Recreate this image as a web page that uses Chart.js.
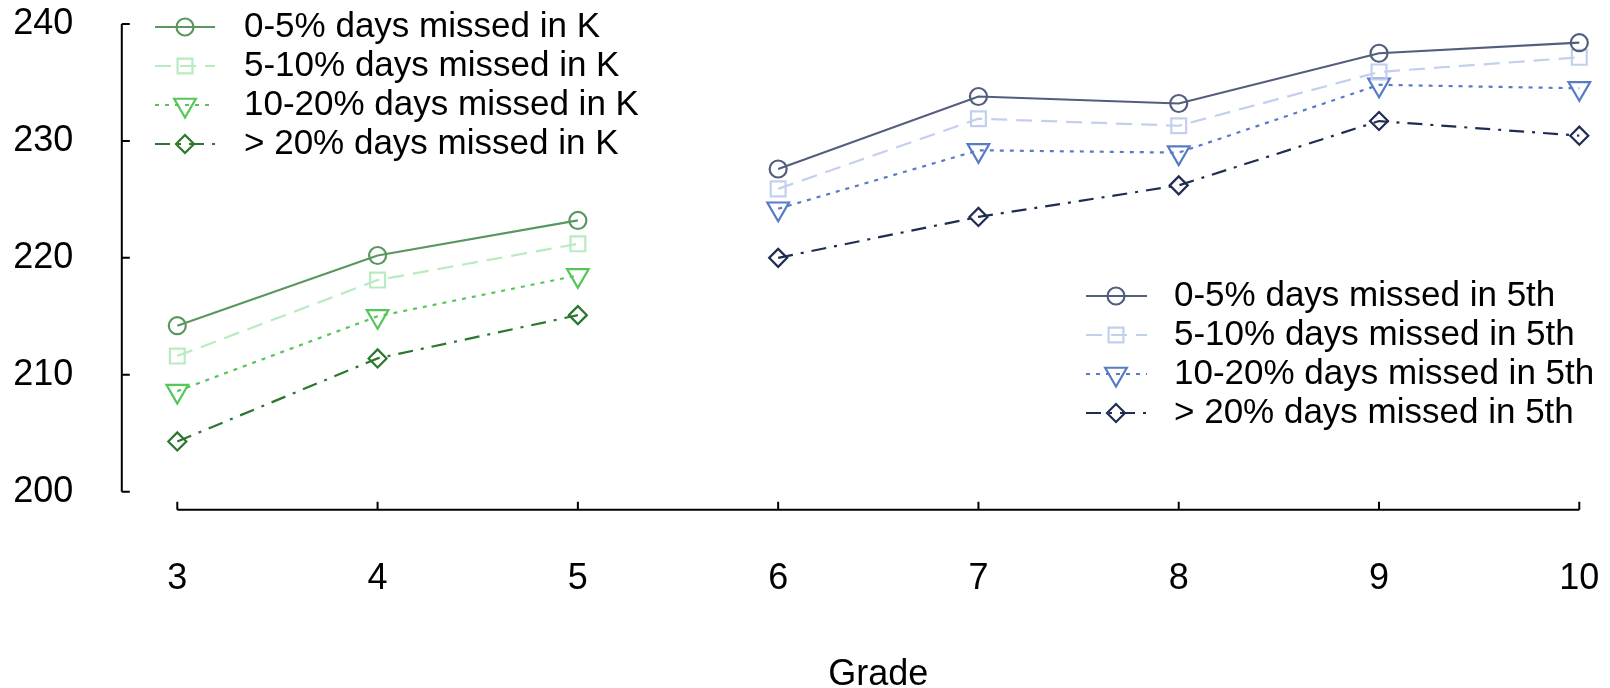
<!DOCTYPE html>
<html>
<head>
<meta charset="utf-8">
<script src="https://cdn.jsdelivr.net/npm/chart.js@4/dist/chart.umd.min.js"></script>
<style>
  html, body { margin: 0; padding: 0; background: #fff; }
  #wrap { width: 1610px; height: 688px; }
</style>
</head>
<body>
<div id="wrap"><canvas id="chart" width="1610" height="688"></canvas></div>
<script>
// grades
const gradesK = [3, 4, 5];
const grades5th = [6, 7, 8, 9, 10];

// scores, kids grouped by absences in kindergarten
const k0to5 = [214.2, 220.2, 223.2];
const k5to10 = [211.6, 218.1, 221.2];
const k10to20 = [208.6, 215.0, 218.5];
const kOver20 = [204.3, 211.4, 215.1];

// scores, kids grouped by absences in 5th grade
const f0to5 = [227.6, 233.8, 233.2, 237.5, 238.4];
const f5to10 = [225.9, 231.9, 231.3, 235.9, 237.15];
const f10to20 = [224.2, 229.2, 229.0, 234.8, 234.5];
const fOver20 = [220.0, 223.5, 226.2, 231.7, 230.45];

const labelsK = ['0-5% days missed in K', '5-10% days missed in K', '10-20% days missed in K', '> 20% days missed in K'];
const labels5th = ['0-5% days missed in 5th', '5-10% days missed in 5th', '10-20% days missed in 5th', '> 20% days missed in 5th'];

const yTicks = [200, 210, 220, 230, 240];
const xTicks = [3, 4, 5, 6, 7, 8, 9, 10];

const FONT = "'Liberation Sans', Arial, Helvetica, sans-serif";

// styles per absence group: solid, dashed, dotted, dash-dot
const styles = [
  { dash: [], point: 'circle', r: 8.5, rot: 0 },
  { dash: [16, 9], point: 'rect', r: 10.5, rot: 0 },
  { dash: [4, 6], point: 'triangle', r: 12.5, rot: 180 },
  { dash: [15, 8, 3, 8], point: 'rectRot', r: 9, rot: 0 }
];
const greens = ['#5a965f', '#b8ebbf', '#55c65a', '#2a772e'];
const blues = ['#535e7d', '#c2d0ee', '#587bc6', '#1f2d52'];

function pts(xs, ys) { return xs.map((x, i) => ({ x: x, y: ys[i] })); }

function makeSet(label, xs, ys, color, st) {
  return {
    label: label,
    data: pts(xs, ys),
    borderColor: color,
    backgroundColor: 'rgba(0,0,0,0)',
    borderWidth: 2.2,
    borderDash: st.dash,
    pointStyle: st.point,
    pointRadius: st.r,
    pointRotation: st.rot,
    pointBorderWidth: 2.2,
    pointBorderColor: color,
    pointBackgroundColor: 'rgba(0,0,0,0)',
    pointHoverRadius: st.r,
    tension: 0,
    fill: false,
    clip: false
  };
}

const seriesK = [k0to5, k5to10, k10to20, kOver20];
const series5th = [f0to5, f5to10, f10to20, fOver20];
const datasets = [];
seriesK.forEach((s, i) => datasets.push(makeSet(labelsK[i], gradesK, s, greens[i], styles[i])));
series5th.forEach((s, i) => datasets.push(makeSet(labels5th[i], grades5th, s, blues[i], styles[i])));

// axis lines drawn detached from the plot, like the original
const axesPlugin = {
  id: 'detachedAxes',
  afterDraw(chart) {
    const ctx = chart.ctx;
    const xs = chart.scales.x, ys = chart.scales.y;
    const ax = chart.chartArea.left - 55.5;
    const ay = chart.chartArea.bottom + 18;
    ctx.save();
    ctx.strokeStyle = '#000';
    ctx.lineWidth = 2;
    ctx.setLineDash([]);
    ctx.beginPath();
    ctx.moveTo(ax, ys.getPixelForValue(240));
    ctx.lineTo(ax, ys.getPixelForValue(200));
    yTicks.forEach(v => {
      const p = ys.getPixelForValue(v);
      ctx.moveTo(ax, p);
      ctx.lineTo(ax + 8, p);
    });
    ctx.moveTo(xs.getPixelForValue(3), ay);
    ctx.lineTo(xs.getPixelForValue(10), ay);
    xTicks.forEach(v => {
      const p = xs.getPixelForValue(v);
      ctx.moveTo(p, ay);
      ctx.lineTo(p, ay - 8);
    });
    ctx.stroke();
    ctx.restore();
  }
};

// two legends, one per cohort
function drawLegend(ctx, labels, colors, x0, x1, mx, tx, y0) {
  labels.forEach((lab, i) => {
    const y = y0 + i * 39;
    const st = styles[i];
    ctx.save();
    ctx.strokeStyle = colors[i];
    ctx.lineWidth = 2.2;
    ctx.setLineDash(st.dash);
    ctx.beginPath();
    ctx.moveTo(x0, y);
    ctx.lineTo(x1, y);
    ctx.stroke();
    ctx.setLineDash([]);
    ctx.fillStyle = 'rgba(0,0,0,0)';
    Chart.helpers.drawPoint(ctx, {
      pointStyle: st.point, radius: st.r, rotation: st.rot, borderWidth: 2.2
    }, mx, y);
    ctx.fillStyle = '#000';
    ctx.font = '35px ' + FONT;
    ctx.textAlign = 'left';
    ctx.textBaseline = 'middle';
    ctx.fillText(lab, tx, y);
    ctx.restore();
  });
}

const legendPlugin = {
  id: 'twoLegends',
  afterDraw(chart) {
    const ctx = chart.ctx;
    drawLegend(ctx, labelsK, greens, 155, 215, 185, 244, 27);
    drawLegend(ctx, labels5th, blues, 1086, 1147, 1116, 1174, 296);
  }
};

function noPad(scale) {
  scale.paddingLeft = 0;
  scale.paddingRight = 0;
  scale.paddingTop = 0;
  scale.paddingBottom = 0;
}

new Chart(document.getElementById('chart'), {
  type: 'line',
  data: { datasets: datasets },
  options: {
    responsive: false,
    animation: false,
    events: [],
    layout: { padding: { left: 0, right: 30.7, top: 24, bottom: 0 } },
    plugins: { legend: { display: false }, tooltip: { enabled: false } },
    scales: {
      x: {
        type: 'linear',
        min: 3,
        max: 10,
        grid: { display: false, drawTicks: false },
        border: { display: false },
        ticks: { stepSize: 1, padding: 66, color: '#000', font: { family: FONT, size: 36 } },
        title: { display: true, text: 'Grade', color: '#000', padding: { top: 0, bottom: -5 }, font: { family: FONT, size: 36, lineHeight: 1.0 } },
        afterFit(scale) { scale.height = 196.3; noPad(scale); }
      },
      y: {
        min: 200,
        max: 240,
        grid: { display: false, drawTicks: false },
        border: { display: false },
        ticks: { stepSize: 10, padding: 104, color: '#000', font: { family: FONT, size: 36 } },
        afterFit(scale) { scale.width = 177.3; noPad(scale); }
      }
    }
  },
  plugins: [axesPlugin, legendPlugin]
});
</script>
</body>
</html>
